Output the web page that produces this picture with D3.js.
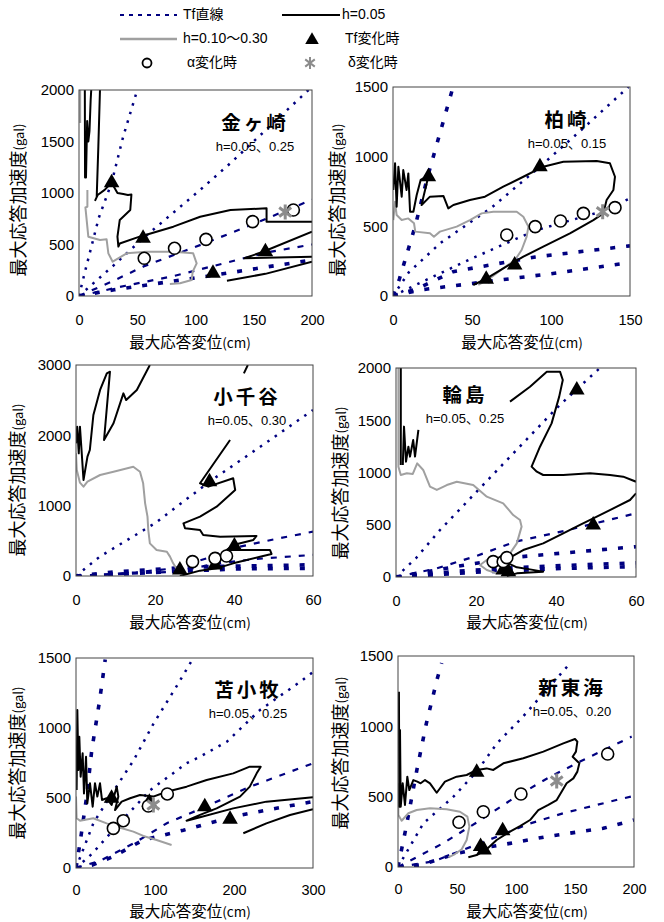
<!DOCTYPE html>
<html>
<head>
<meta charset="utf-8">
<script src="https://cdn.jsdelivr.net/npm/d3@7"></script>
<style>
  body { margin: 0; background: #fff; }
  svg { display: block; }
</style>
</head>
<body>
<svg id="chart" width="664" height="922"></svg>
<script>
// ---------- data (d = 最大応答変位 cm, a = 最大応答加速度 gal) ----------

// 金ヶ崎
const kaneXTicks = [0, 50, 100, 150, 200];
const kaneYTicks = [0, 500, 1000, 1500, 2000];
const kaneTf = [
  [[0,0],[5,230],[17,760],[28,1100],[38,1550],[50,2000]],
  [[0,0],[30,300],[55,560],[104,1030],[130,1290],[197,2000]],
  [[0,0],[30,150],[56,290],[110,520],[150,700],[200,935]],
  [[0,0],[40,100],[80,190],[115,290],[160,420],[200,500]],
  [[0,0],[30,60],[60,110],[115,200],[160,280],[200,350]]
];
const kaneH05 = [
  [[5,2000],[5.2,1150],[6,1150],[7,1700],[8,1500],[9,1600],[10,1900],[10.5,2000]],
  [[18,2000],[16.6,1450],[15.2,960],[14,930],[16,980],[22,1030],[28,1100],[33,1000],[38,990],[42,980],[45,985],[44,835],[35,738],[33,576],[33.8,480],[35,510],[52,576],[81,673],[104,770],[130,835],[161,851],[161,722],[200,722]],
  [[200,625],[158,430],[142,366],[200,382]],
  [[127,149],[160,215],[200,333]]
];
const kaneGray = [
  [[1,2000],[1,1680]],
  [[7.2,1029],[7.2,867],[5.5,860],[8,576],[18,544],[23.7,550],[25.2,414],[28.9,333],[40.9,414],[58,430],[81,430],[98,414],[101,317],[97.6,236],[96.7,155],[86.7,123],[78,117]]
];
const kaneTri = [[28,1100],[55,560],[115,220],[160,430]];
const kaneCircle = [[56,366],[82,463],[109,550],[149,722],[184,835]];
const kaneStar = [[177,815]];

// 柏崎
const kashiXTicks = [0, 50, 100, 150];
const kashiYTicks = [0, 500, 1000, 1500];
const kashiTf = [
  [[0,0],[4,120],[14,500],[22,860],[25.5,1000],[38,1500]],
  [[0,0],[10,170],[30,380],[63,640],[93,928],[120,1200],[149,1500]],
  [[0,0],[20,110],[50,270],[90,470],[130,600],[150,700]],
  [[0,0],[15,50],[38,175],[90,280],[150,360]],
  [[0,0],[17,43],[50,90],[100,160],[150,240]]
];
const kashiH05 = [
  [[0.2,761],[1.3,952],[2.3,641],[3.4,928],[5.5,713],[6.5,904],[8.6,761],[9.7,880],[10.8,605],[12.9,605],[15,725],[17.5,833],[20,850],[22.4,860],[19,700],[18.1,653],[23.4,713],[31.9,718],[35,629],[38.2,653],[48.7,689],[58.2,713],[69.8,785],[82.5,856],[95.1,928],[107.8,964],[128.9,969],[137.3,952],[140.5,856],[139.5,761],[135.2,689],[133.1,593],[126.8,545],[112,450],[95.1,354],[82.5,282],[69.8,199],[59.3,127],[50.8,79]]
];
const kashiGray = [
  [[0.2,545],[1.3,677],[2.3,581],[5.5,545],[9.7,557],[13.3,522],[14.1,462],[23.4,450],[25.9,426],[29.7,462],[40.3,498],[48.7,545],[56.1,593],[63.5,605],[78.3,605],[82.5,569],[85.7,498],[84.6,426],[81.4,330],[77.2,258],[69.8,199],[61.4,127],[54,79]]
];
const kashiTri = [[22.4,856],[93,928],[77,222],[59,120]];
const kashiCircle = [[72,438],[90,498],[106,538],[120.5,593],[140.5,634]];
const kashiStar = [[132.7,605]];

// 小千谷
const ojiyaXTicks = [0, 20, 40, 60];
const ojiyaYTicks = [0, 1000, 2000, 3000];
const ojiyaTf = [
  [[0,0],[6,275],[20,750],[33.8,1341],[48,1890],[60,2360]],
  [[0,0],[15,50],[25,110],[33,250],[40,400],[50,520],[60,630]],
  [[0,0],[25,60],[35,170],[45,240],[60,300]],
  [[0,0],[10,60],[30,130],[60,160]],
  [[0,0],[20,50],[40,100],[60,110]]
];
const ojiyaH05 = [
  [[0,1886],[0.3,2123],[0.7,1744],[1,2123],[1.4,1791],[1.9,1365],[2.9,1697],[3.5,1791],[4.4,2289],[6.1,2645],[7.8,2882],[8.6,2905],[7.1,1934],[9.5,2171],[12,2597],[12.7,2502],[15.4,2645],[18.7,3000]],
  [[42.5,2880],[43.5,3000]],
  [[39,1934],[31.4,1318],[33.5,1270],[39.8,1389],[40.3,1223],[35.6,986],[31.4,844],[27.2,749],[27.6,678],[31.4,654],[32.2,583],[36.5,559],[45.7,569],[44.9,512],[39.8,441],[38.1,370],[49.1,370],[49.5,313],[46.6,275],[39.8,180],[35.6,109],[31.4,76],[26.3,0]]
];
const ojiyaGray = [
  [[0,1744],[0.2,1507],[1,1327],[1.9,1270],[2.9,1341],[6.1,1436],[9.5,1483],[14.5,1554],[16.2,1483],[17,1318],[17.5,1033],[18.1,844],[18.3,654],[18.7,464],[20.4,370],[23,346],[23.8,275],[24.6,180],[25.9,62]]
];
const ojiyaTri = [[33.8,1341],[40.1,427],[26.3,85],[35.2,156]];
const ojiyaCircle = [[29.5,204],[35.2,251],[38.1,284]];
const ojiyaStar = [];

// 輪島
const wajimaXTicks = [0, 20, 40, 60];
const wajimaYTicks = [0, 500, 1000, 1500, 2000];
const wajimaTf = [
  [[0,0],[5,180],[11,450],[19,770],[27,1090],[40,1610],[45,1790],[51,2000]],
  [[0,0],[10,80],[20,200],[30,340],[42,440],[60,610]],
  [[0,0],[15,100],[30,190],[45,240],[60,290]],
  [[0,0],[15,55],[30,90],[45,115],[60,135]],
  [[0,0],[20,45],[40,80],[60,100]]
];
const wajimaH05 = [
  [[1.2,2000],[1.2,1072]],
  [[1.7,1072],[2,1439],[2.5,1104],[3.1,1247],[3.5,1152],[4.3,1311],[4.75,1152],[5.6,1407]],
  [[28.5,1678],[33.5,1821],[37.7,1965],[41,1965],[41.7,1885],[40.8,1726],[38.9,1470],[36,1247],[33.9,1056],[35.2,1008],[36.8,976],[41.8,976],[48.5,992],[53.5,976],[56.8,960],[60,912]],
  [[60,801],[58.5,737],[55.2,673],[50.2,577],[46,498],[41.8,418],[36.8,322],[31.8,258],[28.9,195],[28.1,131],[30.2,93],[33.5,73],[36.8,51],[30.2,35],[27.7,10]]
];
const wajimaGray = [
  [[0.6,2000],[0.6,1056],[1.2,976],[2.7,992],[4.2,986],[5.3,1088],[6.8,1024],[8.5,864],[10.2,833],[12.7,880],[15.2,912],[19.3,880],[22.7,769],[26.8,705],[29.3,593],[31,545],[31.4,482],[30.2,322],[28.5,226],[26.8,195],[22.7,163],[21,115],[22.7,67],[25.2,35]]
];
const wajimaTri = [[45.2,1789],[49.3,498],[26.8,67],[28.1,51]];
const wajimaCircle = [[24.3,147],[26.8,147],[27.7,185]];
const wajimaStar = [];

// 苫小牧
const tomaXTicks = [0, 100, 200, 300];
const tomaYTicks = [0, 500, 1000, 1500];
const tomaTf = [
  [[0,0],[5,176],[13.5,510],[20,843],[30,1200],[37,1490]],
  [[0,0],[22,320],[43,510],[73,770],[98,1030],[127,1295],[148.5,1500]],
  [[0,0],[20,100],[51,295],[94,557],[140,748],[157,795],[191,902],[233,1129],[284,1331],[300,1400]],
  [[0,0],[30,50],[73,176],[115,320],[165,440],[220,580],[300,748]],
  [[0,0],[20,20],[47,81],[85,200],[136,270],[199,367],[241,414],[300,474]]
];
const tomaH05 = [
  [[0.8,557],[1.7,1129],[3,700],[4.2,938],[5.9,652],[8.4,819],[10.1,533],[12.7,795],[14.3,462],[17.7,605],[21.1,438],[24,605],[27,510],[30.4,605],[32.9,486],[38.8,498],[45.1,450],[51.5,581],[53.6,510],[49.4,414],[57.8,474],[68.4,498],[81,521],[97.9,510],[114.8,545],[140,581],[165.4,629],[199,676],[220,724],[233.8,724],[228.7,676],[220,581],[207.6,510],[178,426],[157,379],[140,338],[157,362],[199,426],[241,474],[300,505]],
  [[211.8,248],[241,319],[270.9,379],[300,419]]
];
const tomaGray = [
  [[0,510],[0.8,355],[5.1,338],[21.9,355],[38.8,319],[51.5,295],[72.6,260],[85.2,229],[102,200],[121,164]]
];
const tomaTri = [[45,498],[92.8,470],[163,438],[195,348]];
const tomaCircle = [[47.3,283],[59.9,338],[91.6,443],[115.6,529]];
const tomaStar = [[97.9,450]];

// 新東海
const shinXTicks = [0, 50, 100, 150, 200];
const shinYTicks = [0, 500, 1000, 1500];
const shinTf = [
  [[0,0],[7,287],[16,690],[24,1020],[33,1330],[37,1450]],
  [[0,0],[21.5,310],[47,500],[66.7,678],[84,880],[106,1070],[146,1450]],
  [[0,0],[38,168],[70,334],[100,500],[129,642],[157,761],[198,927]],
  [[0,0],[30,40],[55,121],[84,216],[112,310],[140,382],[185,476],[200,505]],
  [[0,0],[20,15],[50,97],[70,133],[95,168],[126,216],[154,251],[174,275],[200,334]]
];
const shinH05 = [
  [[0.8,1246],[1.1,429],[1.7,974],[2.3,429],[4,595],[5.9,441],[7.9,642],[9.6,547],[13,618],[16.4,607],[19.2,595],[22.9,618],[27.1,595],[32.8,528],[39.8,607],[49.7,642],[58.2,654],[66.7,690],[75.1,701],[80.8,690],[89.3,737],[106.2,773],[123.2,820],[140.1,879],[150,910],[152,891],[150.8,820],[148,784],[153.7,737],[152,678],[148.6,630],[142.9,595],[137.9,524],[134.5,476],[127.4,441],[118.9,405],[111.9,334],[103.4,291],[94.9,251],[83.6,192],[75.1,126],[66.7,85],[59.6,69]]
];
const shinGray = [
  [[0.3,595],[0.3,370],[3.1,329],[8.8,382],[15.8,405],[27.1,417],[41.2,410],[52.5,393],[58.8,358],[60.5,287],[58.2,192],[54,126],[48.3,92],[42.7,69]]
];
const shinTri = [[66.7,673],[88.7,258],[70,145],[72.9,121]];
const shinCircle = [[51.7,318],[72.3,393],[104.2,519],[177.7,803]];
const shinStar = [[134.5,611]];

const legendLabels = ["Tf直線", "h=0.05", "h=0.10～0.30", "Tf変化時", "α変化時", "δ変化時"];

// ---------- layout ----------
const NAVY = "#000080";
const GRAY = "#a0a0a0";
const NUM_FONT = "'Liberation Sans', Arial, 'Noto Sans CJK JP', sans-serif";
const JP_FONT = "'Noto Sans CJK JP', sans-serif";
const tfStyle = {
  dot:  { w: 2.5, da: "2.5,6.5" },
  dash: { w: 2.2, da: "6,8" },
  sq:   { w: 3.6, da: "5,11" }
};

const panels = [
  { id: 1, name: "金ヶ崎", sub: "h=0.05、0.25", box: [79, 312, 90, 296], tx: 255, ty: 123,
    xMax: 200, yMax: 2000, xTicks: kaneXTicks, yTicks: kaneYTicks, pad: 19,
    tf: kaneTf, kinds: ["dot","dot","dash","dash","sq"], h05: kaneH05, gray: kaneGray,
    tri: kaneTri, circ: kaneCircle, star: kaneStar, ylab: [20, 200], xlab: [190, 348] },
  { id: 2, name: "柏崎", sub: "h=0.05、0.15", box: [393, 630, 87, 296], tx: 567, ty: 120,
    xMax: 150, yMax: 1500, xTicks: kashiXTicks, yTicks: kashiYTicks, pad: 19,
    tf: kashiTf, kinds: ["sq","dot","dot","sq","sq"], h05: kashiH05, gray: kashiGray,
    tri: kashiTri, circ: kashiCircle, star: kashiStar, ylab: [339, 200], xlab: [522, 348] },
  { id: 3, name: "小千谷", sub: "h=0.05、0.30", box: [76, 313, 365, 576], tx: 247, ty: 397,
    xMax: 60, yMax: 3000, xTicks: ojiyaXTicks, yTicks: ojiyaYTicks, pad: 19,
    tf: ojiyaTf, kinds: ["dot","dash","dash","sq","sq"], h05: ojiyaH05, gray: ojiyaGray,
    tri: ojiyaTri, circ: ojiyaCircle, star: ojiyaStar, ylab: [19, 480], xlab: [190, 628] },
  { id: 4, name: "輪島", sub: "h=0.05、0.25", box: [396, 636, 368, 577], tx: 465, ty: 395,
    xMax: 60, yMax: 2000, xTicks: wajimaXTicks, yTicks: wajimaYTicks, pad: 19,
    tf: wajimaTf, kinds: ["dot","dash","sq","sq","sq"], h05: wajimaH05, gray: wajimaGray,
    tri: wajimaTri, circ: wajimaCircle, star: wajimaStar, ylab: [342, 483], xlab: [527, 628] },
  { id: 5, name: "苫小牧", sub: "h=0.05、0.25", box: [76, 313, 658, 868], tx: 248, ty: 690,
    xMax: 300, yMax: 1500, xTicks: tomaXTicks, yTicks: tomaYTicks, pad: 17,
    tf: tomaTf, kinds: ["sq","dot","dot","dash","sq"], h05: tomaH05, gray: tomaGray,
    tri: tomaTri, circ: tomaCircle, star: tomaStar, ylab: [19, 763], xlab: [190, 916.5] },
  { id: 6, name: "新東海", sub: "h=0.05、0.20", box: [398, 634, 656, 867], tx: 572, ty: 688,
    xMax: 200, yMax: 1500, xTicks: shinXTicks, yTicks: shinYTicks, pad: 17,
    tf: shinTf, kinds: ["sq","dot","dash","dash","sq"], h05: shinH05, gray: shinGray,
    tri: shinTri, circ: shinCircle, star: shinStar, ylab: [342, 753], xlab: [527, 916.5] }
];

const svg = d3.select("#chart");
const defs = svg.append("defs");

function starPath(s) {
  return `M0,${-s}V${s}M${-s*0.8},${-s*0.6}L${s*0.8},${s*0.6}M${-s*0.8},${s*0.6}L${s*0.8},${-s*0.6}`;
}

function drawMarkers(g, p, x, y) {
  g.selectAll("path.tri").data(p.tri).join("path")
    .attr("class", "tri")
    .attr("transform", d => `translate(${x(d[0])},${y(d[1])})`)
    .attr("d", d3.symbol(d3.symbolTriangle, 105)())
    .attr("fill", "#000");
  g.selectAll("circle.circ").data(p.circ).join("circle")
    .attr("class", "circ")
    .attr("cx", d => x(d[0])).attr("cy", d => y(d[1]))
    .attr("r", 6)
    .attr("fill", "#fff").attr("stroke", "#000").attr("stroke-width", 1.6);
  g.selectAll("path.star").data(p.star).join("path")
    .attr("class", "star")
    .attr("transform", d => `translate(${x(d[0])},${y(d[1])})`)
    .attr("d", starPath(7.5))
    .attr("stroke", "#8c8c8c").attr("stroke-width", 3).attr("fill", "none");
}

function drawPanel(p) {
  const [l, r, t, b] = p.box;
  const x = d3.scaleLinear().domain([0, p.xMax]).range([l, r]);
  const y = d3.scaleLinear().domain([0, p.yMax]).range([b, t]);
  const g = svg.append("g");

  defs.append("clipPath").attr("id", "clip" + p.id)
    .append("rect").attr("x", l).attr("y", t).attr("width", r - l).attr("height", b - t);

  const line = d3.line().x(d => x(d[0])).y(d => y(d[1]));
  const plot = g.append("g").attr("clip-path", `url(#clip${p.id})`);

  // Tf lines
  p.tf.forEach((pts, i) => {
    const st = tfStyle[p.kinds[i]];
    plot.append("path").attr("d", line(pts))
      .attr("fill", "none").attr("stroke", NAVY)
      .attr("stroke-width", st.w).attr("stroke-dasharray", st.da);
  });
  // h=0.10~0.30
  p.gray.forEach(pts => {
    plot.append("path").attr("d", line(pts))
      .attr("fill", "none").attr("stroke", GRAY).attr("stroke-width", 2)
      .attr("stroke-linejoin", "round");
  });
  // h=0.05
  p.h05.forEach(pts => {
    plot.append("path").attr("d", line(pts))
      .attr("fill", "none").attr("stroke", "#000").attr("stroke-width", 2)
      .attr("stroke-linejoin", "round");
  });

  // frame
  g.append("rect").attr("x", l).attr("y", t).attr("width", r - l).attr("height", b - t)
    .attr("fill", "none").attr("stroke", "#444").attr("stroke-width", 1);

  drawMarkers(g, p, x, y);

  // axes
  const ya = g.append("g").attr("transform", `translate(${l},0)`)
    .call(d3.axisLeft(y).tickValues(p.yTicks).tickSize(0).tickPadding(5).tickFormat(d3.format("d")));
  const xa = g.append("g").attr("transform", `translate(0,${b})`)
    .call(d3.axisBottom(x).tickValues(p.xTicks).tickSize(0).tickPadding(p.pad).tickFormat(d3.format("d")));
  ya.select(".domain").remove();
  xa.select(".domain").remove();
  ya.selectAll("text").attr("font-family", NUM_FONT).attr("font-size", 15).attr("fill", "#000");
  xa.selectAll("text").attr("font-family", NUM_FONT).attr("font-size", 14.5).attr("fill", "#000");

  // station name and damping
  g.append("text").attr("x", p.tx).attr("y", p.ty + 7)
    .attr("text-anchor", "middle")
    .attr("font-family", JP_FONT).attr("font-weight", "bold").attr("font-size", 19.5)
    .attr("letter-spacing", 3).text(p.name);
  g.append("text").attr("x", p.tx).attr("y", p.ty + 28)
    .attr("text-anchor", "middle")
    .attr("font-family", NUM_FONT).attr("font-size", 13).text(p.sub);

  // axis titles
  const yt = g.append("text")
    .attr("transform", `translate(${p.ylab[0]},${p.ylab[1]}) rotate(-90)`)
    .attr("text-anchor", "middle").attr("dominant-baseline", "middle")
    .attr("font-family", JP_FONT).attr("font-size", 18);
  yt.append("tspan").text("最大応答加速度");
  yt.append("tspan").attr("font-size", 13).text("(gal)");

  const xt = g.append("text")
    .attr("x", p.xlab[0]).attr("y", p.xlab[1])
    .attr("text-anchor", "middle")
    .attr("font-family", JP_FONT).attr("font-size", 15.5);
  xt.append("tspan").text("最大応答変位");
  xt.append("tspan").attr("font-size", 13.5).text("(cm)");
}

panels.forEach(drawPanel);

// ---------- legend ----------
const lg = svg.append("g").attr("font-family", NUM_FONT).attr("font-size", 14);
lg.append("line").attr("x1", 120).attr("x2", 177).attr("y1", 15).attr("y2", 15)
  .attr("stroke", NAVY).attr("stroke-width", 2).attr("stroke-dasharray", "4,5");
lg.append("text").attr("x", 183).attr("y", 15).attr("dominant-baseline", "middle").text(legendLabels[0]);
lg.append("line").attr("x1", 282).attr("x2", 340).attr("y1", 15).attr("y2", 15)
  .attr("stroke", "#000").attr("stroke-width", 2);
lg.append("text").attr("x", 342).attr("y", 15).attr("dominant-baseline", "middle").text(legendLabels[1]);
lg.append("line").attr("x1", 120).attr("x2", 177).attr("y1", 39).attr("y2", 39)
  .attr("stroke", GRAY).attr("stroke-width", 2.5);
lg.append("text").attr("x", 183).attr("y", 39).attr("dominant-baseline", "middle").text(legendLabels[2]);
lg.append("path").attr("transform", "translate(312,40)").attr("d", d3.symbol(d3.symbolTriangle, 80)()).attr("fill", "#000");
lg.append("text").attr("x", 345).attr("y", 39).attr("dominant-baseline", "middle").text(legendLabels[3]);
lg.append("circle").attr("cx", 147).attr("cy", 63).attr("r", 4.5)
  .attr("fill", "#fff").attr("stroke", "#000").attr("stroke-width", 1.8);
lg.append("text").attr("x", 187).attr("y", 63).attr("dominant-baseline", "middle").text(legendLabels[4]);
lg.append("path").attr("transform", "translate(310,63)").attr("d", starPath(6))
  .attr("stroke", "#8c8c8c").attr("stroke-width", 2).attr("fill", "none");
lg.append("text").attr("x", 348).attr("y", 63).attr("dominant-baseline", "middle").text(legendLabels[5]);
</script>
</body>
</html>
